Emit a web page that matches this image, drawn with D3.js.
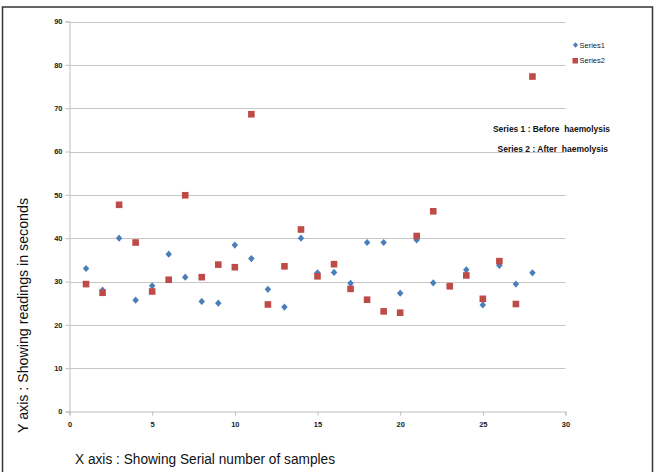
<!DOCTYPE html>
<html><head><meta charset="utf-8">
<script src="https://cdn.jsdelivr.net/npm/d3@7"></script>
<style>body{margin:0;background:#fff}svg{display:block}text{white-space:pre}</style>
</head><body>
<svg id="c" width="654" height="472"></svg>
<script>
const samples = d3.range(1, 29);
const series1 = [33.0,28.0,40.0,25.7,29.0,36.3,31.0,25.4,25.0,38.4,35.3,28.2,24.1,40.0,32.0,32.1,29.6,39.0,39.0,27.3,39.6,29.7,29.0,32.7,24.6,33.7,29.4,32.0];
const series2 = [29.4,27.4,47.7,39.0,27.7,30.4,49.9,31.0,33.9,33.3,68.6,24.7,33.5,42.0,31.2,34.0,28.3,25.8,23.1,22.8,40.5,46.2,28.9,31.4,26.0,34.7,24.8,77.3];
const xTicks = [0,5,10,15,20,25,30];
const yTicks = [0,10,20,30,40,50,60,70,80,90];
const seriesNames = ["Series1","Series2"];
const notes = ["Series 1 : Before  haemolysis","Series 2 : After  haemolysis"];
const xTitle = "X axis : Showing Serial number of samples";
const yTitle = "Y axis : Showing readings in seconds";

const svg = d3.select("#c");
const font = "'Liberation Sans', Arial, sans-serif";
const blue = "#4a7ebb", red = "#be4b48";
const diamondPath = r => `M0,${-r}L${r*0.9},0L0,${r}L${-r*0.9},0Z`;

// outer frame
svg.append("rect").attr("x",2.5).attr("y",7).attr("width",650).attr("height",470)
  .attr("fill","none").attr("stroke","#333").attr("stroke-width",1.5);

const x = d3.scaleLinear().domain([0,30]).range([69.5,565.5]);
const y = d3.scaleLinear().domain([0,90]).range([411.5,21.5]);

// gridlines
svg.append("g").selectAll("line").data(yTicks.slice(1)).join("line")
  .attr("x1",x(0)).attr("x2",x(30)).attr("y1",d=>Math.round(y(d))+0.5).attr("y2",d=>Math.round(y(d))+0.5)
  .attr("stroke","#c6c6c6").attr("stroke-width",1.2);

// axes
const yAxis = svg.append("g").attr("transform",`translate(${x(0)},0)`)
  .call(d3.axisLeft(y).tickValues(yTicks).tickSize(4).tickPadding(3));
const xAxis = svg.append("g").attr("transform",`translate(0,${y(0)})`)
  .call(d3.axisBottom(x).tickValues(xTicks).tickSize(4).tickPadding(6));
[yAxis,xAxis].forEach(g=>{
  g.select(".domain").attr("stroke","#bdbdbd");
  g.selectAll(".tick line").attr("stroke","#bdbdbd");
  g.selectAll(".tick text").attr("fill","#1a1a1a").attr("font-family",font)
    .attr("font-weight","bold").attr("font-size","7.5px");
});

// markers
svg.append("g").selectAll("path").data(samples).join("path")
  .attr("d",diamondPath(3.6))
  .attr("transform",(d,i)=>`translate(${x(d)},${y(series1[i])})`)
  .attr("fill",blue);
svg.append("g").selectAll("rect").data(samples).join("rect")
  .attr("x",d=>x(d)-3.3).attr("y",(d,i)=>y(series2[i])-3.3)
  .attr("width",6.6).attr("height",6.6).attr("fill",red);

// legend
const lg = svg.append("g");
lg.append("path").attr("d",diamondPath(2.8)).attr("transform","translate(575.5,45)").attr("fill",blue);
lg.append("rect").attr("x",572.5).attr("y",58).attr("width",5.5).attr("height",5.5).attr("fill",red);
lg.selectAll("text").data(seriesNames).join("text")
  .attr("x",579.5).attr("y",(d,i)=>47.7+i*15.5).text(d=>d)
  .attr("font-family",font).attr("font-size","7.5px").attr("fill","#222");

// notes
svg.selectAll("text.note").data(notes).join("text").attr("class","note")
  .attr("x",(d,i)=>i?497.5:493).attr("y",(d,i)=>i?151.5:131.5).text(d=>d)
  .attr("font-family",font).attr("font-weight","bold").attr("font-size","9.5px")
  .attr("textLength",(d,i)=>i?110.5:117).attr("lengthAdjust","spacingAndGlyphs").attr("fill","#111");

// axis titles
svg.append("text").attr("x",75).attr("y",464).text(xTitle)
  .attr("font-family",font).attr("font-size","14px").attr("fill","#111")
  .attr("textLength",260).attr("lengthAdjust","spacingAndGlyphs");
svg.append("text").attr("transform","translate(28,433) rotate(-90)").text(yTitle)
  .attr("font-family",font).attr("font-size","14.5px").attr("fill","#111")
  .attr("textLength",235).attr("lengthAdjust","spacingAndGlyphs");
</script>
</body></html>
